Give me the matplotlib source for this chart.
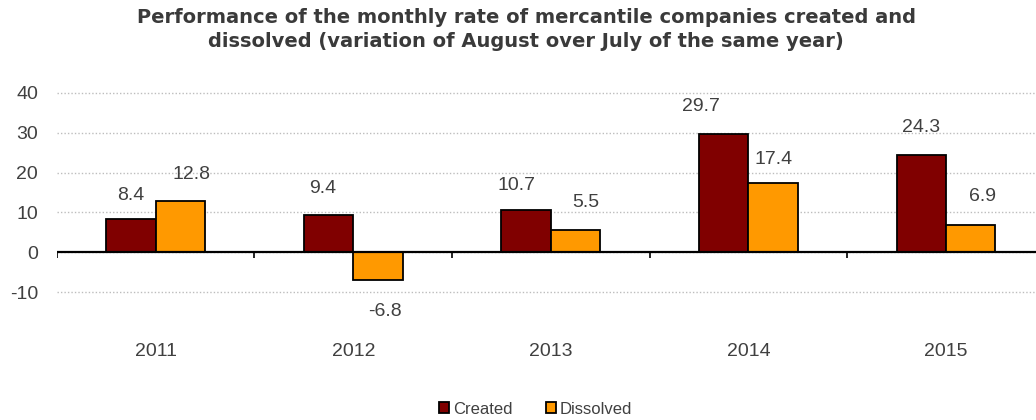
import numpy as np
import matplotlib.pyplot as plt

plt.rcParams['font.family'] = ['Liberation Sans', 'DejaVu Sans']
plt.rcParams['axes.unicode_minus'] = False

years = ['2011', '2012', '2013', '2014', '2015']
created = [8.4, 9.4, 10.7, 29.7, 24.3]
dissolved = [12.8, -6.8, 5.5, 17.4, 6.9]

# label nudges in pixels (the labels were hand placed in the original)
created_off = [(0, 23), (-6, 26), (-10, 24), (-23, 27), (0, 28)]
dissolved_off = [(11, 27), (7, -32), (10, 28), (0, 23), (12, 28)]

txt = '#404040'

fig = plt.figure(figsize=(10.36, 4.2), dpi=100)
ax = fig.add_axes([0.0549, 0.304, 0.9536, 0.4753])

x = np.arange(len(years))
w = 0.25
b1 = ax.bar(x - w / 2, created, w, color='#800000', edgecolor='black', linewidth=1.3, label='Created', zorder=3)
b2 = ax.bar(x + w / 2, dissolved, w, color='#FF9900', edgecolor='black', linewidth=1.3, label='Dissolved', zorder=3)

for bars, vals, offs in ((b1, created, created_off), (b2, dissolved, dissolved_off)):
    for r, v, o in zip(bars, vals, offs):
        ax.annotate('%.1f' % v, (r.get_x() + r.get_width() / 2, v), xytext=o,
                    textcoords='offset pixels', ha='center', va='center',
                    fontsize=14, color=txt, annotation_clip=False)

ax.set_xlim(-0.5, len(years) - 0.5)
ax.set_ylim(-10, 40)
ax.set_yticks([-10, 0, 10, 20, 30, 40])
ax.grid(axis='y', linestyle=(0, (1, 1.5)), color='#bdbdbd', linewidth=1, zorder=0)
for gl in ax.get_ygridlines():
    gl.set_clip_on(False)
ax.axhline(0, color='black', linewidth=1.6, zorder=4)
ax.vlines(np.arange(len(years) + 1) - 0.5, -1.5, 0, color='black', linewidth=1.2, zorder=4)

for s in ax.spines.values():
    s.set_visible(False)
ax.tick_params(axis='y', length=0, labelsize=14, labelcolor=txt, pad=13.5)
ax.set_xticks(x)
ax.set_xticklabels(years)
ax.tick_params(axis='x', length=0, labelsize=14, labelcolor=txt, pad=36.5)

fig.text(0.508, 0.981, 'Performance of the monthly rate of mercantile companies created and\n'
         'dissolved (variation of August over July of the same year)',
         ha='center', va='top', fontsize=14, fontweight='bold', color='#3a3a3a',
         family='DejaVu Sans', linespacing=1.35)

fig.legend(handles=[b1, b2], loc='center', bbox_to_anchor=(0.517, 0.026), ncol=2,
           frameon=False, fontsize=12, handlelength=0.6, handleheight=0.6, handletextpad=0.25,
           columnspacing=2.0, labelcolor=txt, borderpad=0)

fig.savefig('out.png', dpi=100)
